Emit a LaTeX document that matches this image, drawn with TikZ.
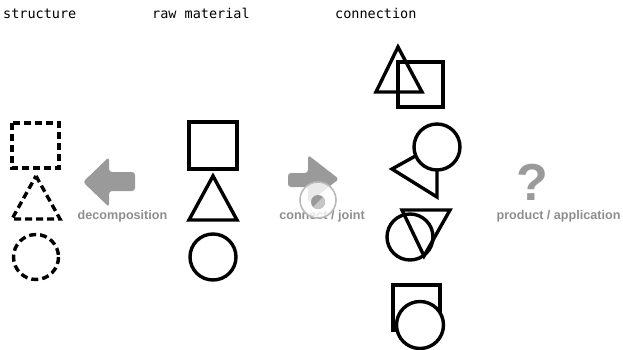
\documentclass[tikz,border=0pt]{standalone}
\usepackage{fontspec}
\newfontfamily\headfont{DejaVu Sans Mono}
\newfontfamily\tagfont{Liberation Sans}
\definecolor{arrowgray}{HTML}{9A9A9A}
\definecolor{taggray}{HTML}{8E8E8E}

\begin{document}
\begin{tikzpicture}[x=1pt,y=-1pt]
        %======estilos==========%

            \tikzstyle{piece}=[draw=black,line width=3.4pt]
            \tikzstyle{piece_dashed}=[piece,dash pattern=on 7pt off 4pt]
            \tikzstyle{big_arrow}=[fill=arrowgray,rounded corners=3pt]
            \tikzstyle{head}=[anchor=base west,inner sep=0pt,font=\headfont\fontsize{13.5}{16}\selectfont]
            \tikzstyle{tag}=[anchor=base,inner sep=0pt,text=taggray,font=\tagfont\bfseries\fontsize{12.6}{15}\selectfont]

        %====================%%=============%

            \useasboundingbox (0,0) rectangle (623,350);

            % titulos
            \node[head](h1) at (3,19) {structure};
            \node[head](h2) at (152,19) {raw material};
            \node[head](h3) at (335,19) {connection};

            % structure: formas tracejadas
            \draw[piece_dashed] (12,123) rectangle (59,168);
            \draw[piece_dashed] (36,176) -- (60,219) -- (12,219) -- cycle;
            \draw[piece_dashed] (36,257) circle (22.5);

            % raw material
            \draw[piece] (189,122) rectangle (237,169);
            \draw[piece] (213,176) -- (237,220) -- (189,220) -- cycle;
            \draw[piece] (213,257) circle (23);

            % seta decomposition
            \fill[big_arrow] (83,182) -- (109,157) -- (109,172) -- (135,172)
                -- (135,191) -- (109,191) -- (109,207) -- cycle;
            \node[tag](t1) at (122.5,219) {decomposition};

            % seta connect / joint
            \fill[big_arrow] (288,173) -- (308,173) -- (308,155) -- (339,179)
                -- (308,203) -- (308,187) -- (288,187) -- cycle;
            \node[tag](t2) at (322,219) {connect / joint};
            \fill[white,fill opacity=0.8] (318,200) circle (18);
            \draw[gray!55,line width=1.6pt] (318,200) circle (18);
            \fill[gray!80] (318,202) circle (7);
            \begin{scope}
                \clip (318,202) circle (7);
                \fill[gray!45] (309,211) -- (327,193) -- (327,211) -- cycle;
            \end{scope}

            % product / application
            \node[text=arrowgray,inner sep=0pt,font=\tagfont\bfseries\fontsize{52}{52}\selectfont](q) at (532,182) {?};
            \node[tag](t3) at (558.5,219) {product / application};

            % connection: triangulo + quadrado
            \draw[piece] (398,62) rectangle (443,107);
            \draw[piece] (398,47) -- (422,92) -- (376,92) -- cycle;

            % connection: triangulo + circulo
            \draw[piece] (392,169) -- (437,144) -- (437,197) -- cycle;
            \draw[piece,fill=white] (437,147) circle (23);

            % connection: circulo + triangulo
            \draw[piece] (410,237) circle (23);
            \draw[piece] (402,210) -- (450,210) -- (424,256) -- cycle;

            % connection: quadrado + circulo
            \draw[piece] (393,285) rectangle (440,330);
            \draw[piece,fill=white] (420,325) circle (23.5);
        \end{tikzpicture}
\end{document}
